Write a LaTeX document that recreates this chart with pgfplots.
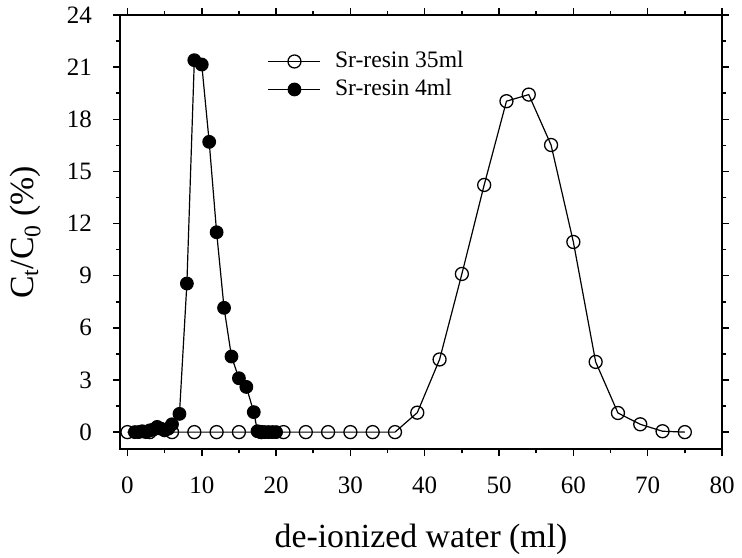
\documentclass[border=0pt]{standalone}
\usepackage{pgfplots}
\pgfplotsset{compat=1.18}
\usepackage{fontspec}
\setmainfont{Liberation Serif}

\pgfplotstableread{
x y
0 0
3 0
6 0
9 0
12 0
15 0
18 0
21 0
24 0
27 0
30 0
33 0
36 0
39 1.12
42 4.18
45 9.1
48 14.22
51 19.04
54 19.42
57 16.52
60 10.94
63 4.04
66 1.1
69 0.45
72 0.05
75 0
}\bigres

\pgfplotstableread{
x y
1 0.0
1.5 0.0
2 0.05
2.5 0.0
3 0.1
3.5 0.15
4 0.3
4.5 0.2
5 0.1
5.5 0.2
6 0.45
7 1.05
8 8.55
9 21.4
10 21.15
11 16.7
12 11.5
13 7.15
14 4.35
15 3.1
16 2.6
17 1.15
17.5 0.05
18 0
18.5 0
19 0
19.5 0
20 0
}\smallres

\begin{document}
\begin{tikzpicture}
\begin{axis}[
  name=ax,
  scale only axis,
  width=602pt, height=434.5pt,
  xmin=-1, xmax=80, ymin=-1, ymax=24,
  xtick={0,10,...,80}, ytick={0,3,...,24},
  minor x tick num=1, minor y tick num=1,
  tick align=outside,
  major tick length=7pt, minor tick length=4pt,
  axis line style={line width=2pt},
  every tick/.style={black, line width=1.5pt},
  /pgf/number format/assume math mode=true,
  xticklabel style={font=\fontsize{25}{29}\selectfont, inner sep=0pt, anchor=north, yshift=-20pt},
  yticklabel style={font=\fontsize{25}{29}\selectfont, inner sep=0pt, anchor=east, xshift=-21pt},
  xlabel={de-ionized water (ml)},
  ylabel={C\textsubscript{t}/C\textsubscript{0} (\%)},
  every axis x label/.style={at={(axis description cs:0.5,-0.226)}, anchor=base, font=\fontsize{33.8}{40}\selectfont},
  every axis y label/.style={at={(axis description cs:-0.144,0.5)}, anchor=base, rotate=90, font=\fontsize{33.8}{40}\selectfont},
  legend style={draw=none, fill=none, at={(axis description cs:0.2453,0.9188)}, anchor=north west, inner sep=0pt, row sep=6pt,
    font=\fontsize{23.6}{28}\selectfont, nodes={inner sep=0pt, text height=17pt, text depth=5pt},
    /tikz/every odd column/.style={column sep=14pt}},
  legend cell align=left,
  legend image code/.code={\draw[mark repeat=2,mark phase=2] plot coordinates {(0pt,0pt) (26pt,0pt) (52pt,0pt)};},
]
\addplot[black, line width=1.2pt, mark=o, mark size=6.5pt, mark options={line width=1.3pt, fill=white}] table[x=x,y=y] {\bigres};
\addlegendentry{Sr-resin 35ml}
\addplot[black, line width=1.2pt, mark=*, mark size=6.3pt, mark options={fill=black}] table[x=x,y=y] {\smallres};
\addlegendentry{Sr-resin 4ml}
\end{axis}
\pgfresetboundingbox
\path[use as bounding box] ([shift={(-120pt,-108.5pt)}]ax.south west) rectangle ([shift={(20pt,15pt)}]ax.north east);
\end{tikzpicture}
\end{document}
